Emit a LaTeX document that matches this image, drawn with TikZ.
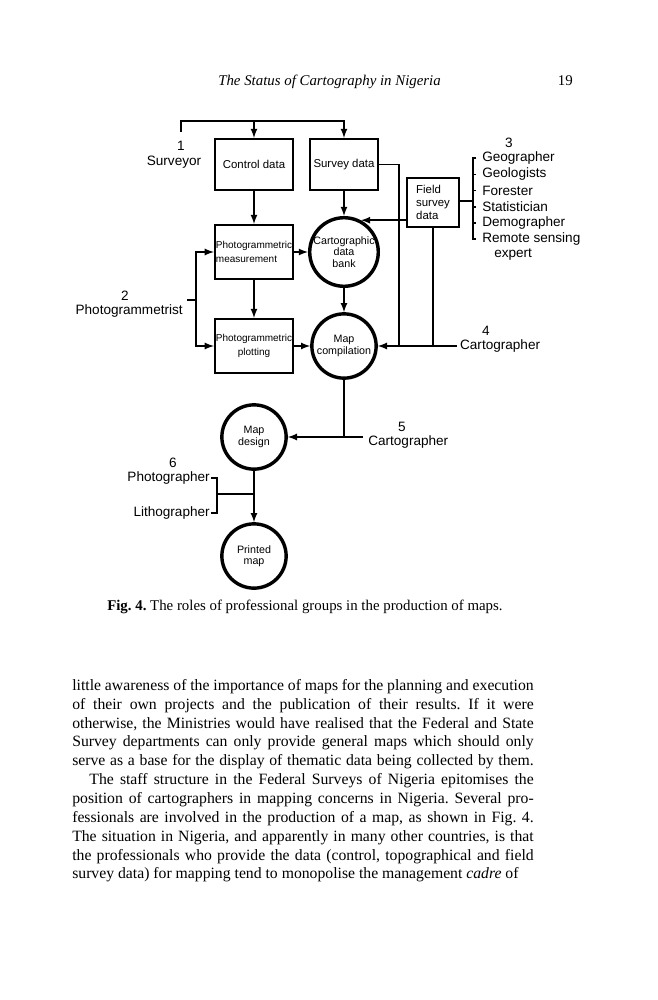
\documentclass[tikz,border=0pt]{standalone}
\usepackage{fontspec}
\setmainfont{Liberation Serif}
\setsansfont{Liberation Sans}
\usetikzlibrary{calc}
\frenchspacing

\begin{document}
\begin{tikzpicture}[x=0.7pt,y=-0.7pt,
	databox/.style={draw,line width=1.2pt,minimum width=55pt,minimum height=36pt,inner sep=1pt,align=center,font=\sffamily\fontsize{8}{9}\selectfont},
	pgbox/.style={databox,inner sep=0pt,minimum height=38pt,font=\sffamily\fontsize{7}{9.5}\selectfont},
	stage/.style={circle,draw,line width=2.4pt,minimum size=45pt,inner sep=0pt,align=center,font=\sffamily\fontsize{7.5}{8}\selectfont},
	role/.style={inner sep=0pt,font=\sffamily\fontsize{9.5}{11}\selectfont},
	link/.style={line width=1.2pt},
	flow/.style={link,->,>=latex}]
		\useasboundingbox (0,0) rectangle (657,1000);

		% running head
		\node[anchor=base west,inner sep=0pt,font=\itshape\fontsize{10.4}{12}\selectfont] (head) at (218,86) {The Status of Cartography in Nigeria};
		\node[anchor=base east,inner sep=0pt,font=\fontsize{10.4}{12}\selectfont] (folio) at (573,86) {19};

		% data and stages
		\node[databox] (ctrl) at (254,164.5) {Control data};
		\node[databox,minimum width=47.6pt] (sdat) at (344,164.5) {Survey data};
		\node[databox,minimum width=36pt,minimum height=34pt,align=left,inner sep=3pt,font=\sffamily\fontsize{8}{9.3}\selectfont] (fld) at (433,202.5) {Field\\survey\\data};
		\node[pgbox,align=left] (pm) at (254,252) {Photogrammetric\\measurement};
		\node[pgbox] (pp) at (254,346) {Photogrammetric\\plotting};
		\node[stage] (cdb) at (344,252) {Cartographic\\data\\bank};
		\node[stage] (mc) at (344,346) {Map\\compilation};
		\node[stage] (md) at (254,437) {Map\\design};
		\node[stage] (pr) at (254,556) {Printed\\map};

		% 1 surveyor
		\coordinate (srvtick) at (181,132);
		\coordinate (topbar) at (181,121);
		\draw[flow] (srvtick) |- (sdat.north |- topbar) -- (sdat.north);
		\draw[flow] (ctrl.north |- topbar) -- (ctrl.north);
		\node[role] (n1) at (181,146) {1};
		\node[role] (surveyor) at (174,162) {Surveyor};

		\draw[flow] (ctrl.south) -- (pm.north);
		\draw[flow] (pm.south) -- (pp.north);
		\draw[flow] (sdat.south) -- (cdb.north);
		\draw[flow] (cdb.south) -- (mc.north);
		\draw[flow] (pm.east) -- (cdb.west);
		\draw[flow] (pp.east) -- (mc.west);

		% 2 photogrammetrist
		\coordinate (pgv) at (196,300);
		\coordinate (pgt) at (187,300);
		\draw[flow] (pgv) |- (pm.west);
		\draw[flow] (pgv) |- (pp.west);
		\draw[link] (pgt) -- (pgv);
		\node[role] (n2) at (125,296) {2};
		\node[role,anchor=east] (pgist) at (183,311) {Photogrammetrist};

		% 3 field scientists
		\coordinate (rb) at (473,201);
		\draw[link] (fld.east |- rb) -- (rb);
		\draw[flow] (fld.west |- cdb.62) -- (cdb.62);
		\foreach \job [count=\k] in {Geographer,Geologists,Forester,Statistician,Demographer,Remote sensing}
			\node[role,anchor=west] (job\k) at (482,{142+16.2*\k}) {\job};
		\node[role,anchor=west] (job7) at (494,255) {expert};
		\node[role] (n3) at (509,143) {3};
		\draw[link] ([xshift=-4pt]job1.west) -- (job1.west -| rb) -- (job6.west -| rb) -- ([xshift=-4pt]job6.west);
		\foreach \k in {2,...,5} \draw[link] (job\k.west -| rb) -- ([xshift=-4pt]job\k.west);

		% 4 cartographer
		\coordinate (bus) at (399,346);
		\coordinate (c4) at (457,346);
		\draw[link] (sdat.east) -| (bus);
		\draw[link] (fld.south) -- (fld.south |- bus);
		\draw[flow] (c4) -- (mc.east);
		\node[role,anchor=west] (cart4) at ([xshift=2pt]c4) {Cartographer};
		\node[role] (n4) at (486,331) {4};

		% 5 cartographer
		\coordinate (c5) at (363,437);
		\draw[link] (mc.south) -- (mc.south |- c5);
		\draw[flow] (c5) -- (md.east);
		\node[role,anchor=west] (cart5) at (368,442) {Cartographer};
		\node[role] (n5) at (402,427) {5};

		% 6 photographer, lithographer
		\draw[flow] (md.south) -- (pr.north);
		\coordinate (lj) at (217,494);
		\node[role,anchor=east] (photo) at (210,478) {Photographer};
		\node[role,anchor=east] (litho) at (210,513) {Lithographer};
		\node[role] (n6) at (173,463) {6};
		\draw[link] ([xshift=1pt]photo.east) -| (lj) |- ([xshift=1pt]litho.east);
		\draw[link] (lj) -- (lj -| md.south);

		% caption and text
		\node[anchor=base west,inner sep=0pt,font=\fontsize{10.4}{12}\selectfont] (caption) at (107,610) {\textbf{Fig. 4.} The roles of professional groups in the production of maps.};
		\node[anchor=north west,inner sep=0pt,text width=323pt,align=justify,font=\fontsize{11}{13.2}\selectfont] (body) at (72,679) {\parfillskip=0pt\relax
			little awareness of the importance of maps for the planning and execution\linebreak
			of their own projects and the publication of their results. If it were\linebreak
			otherwise, the Ministries would have realised that the Federal and State\linebreak
			Survey departments can only provide general maps which should only\linebreak
			serve as a base for the display of thematic data being collected by them.\par
			\hspace*{12pt}The staff structure in the Federal Surveys of Nigeria epitomises the\linebreak
			position of cartographers in mapping concerns in Nigeria. Several pro-\linebreak
			fessionals are involved in the production of a map, as shown in Fig.~4.\linebreak
			The situation in Nigeria, and apparently in many other countries, is that\linebreak
			the professionals who provide the data (control, topographical and field\linebreak
			survey data) for mapping tend to monopolise the management \textit{cadre} of};
	\end{tikzpicture}
\end{document}
